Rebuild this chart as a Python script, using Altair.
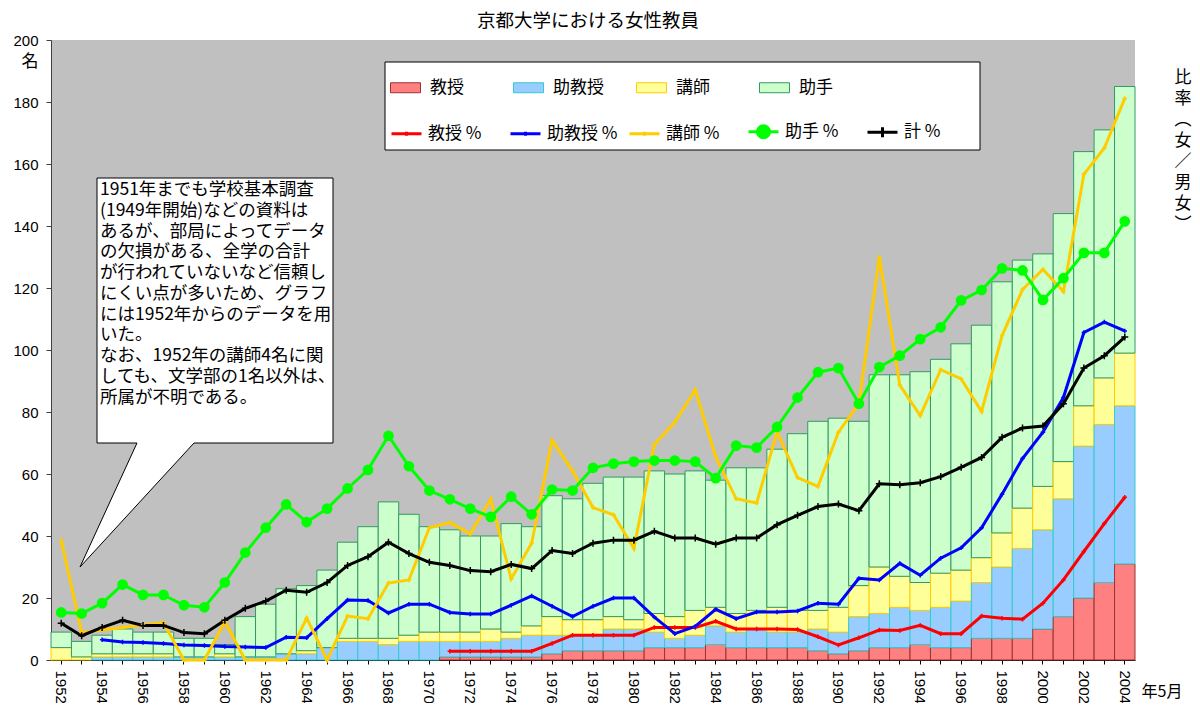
import altair as alt
import pandas as pd

FONT = "Noto Sans CJK JP"
NUMFONT = "Liberation Sans"

years = list(range(1952, 2005))

# 人数（名）
kyoju = [0] * 19 + [1, 1, 1, 1, 1, 2, 3, 3, 3, 3,
                    4, 4, 4, 5, 4, 4, 4, 4, 3, 2, 3, 4, 4, 5, 4, 4, 7, 7, 7, 10, 14, 20, 25, 31]
jokyoju = [0, 0, 1, 1, 1, 1, 1, 1, 1, 1,
           1, 2, 2, 4, 6, 6, 5, 6, 6, 5,
           5, 5, 6, 7, 6, 5, 5, 7, 7, 5,
           3, 4, 6, 5, 6, 5, 5, 7, 7, 11,
           11, 13, 11, 13, 15, 18, 23, 29, 32, 38,
           49, 51, 51]
koshi = [4, 1, 1, 1, 1, 1, 0, 0, 1, 0,
         0, 0, 1, 0, 1, 1, 2, 2, 3, 3,
         3, 4, 2, 3, 6, 5, 5, 4, 3, 6,
         7, 8, 6, 6, 6, 8, 7, 6, 8, 10,
         15, 10, 9, 11, 10, 8, 11, 13, 14, 12,
         13, 15, 17]
joshu = [5, 5, 6, 8, 7, 7, 6, 6, 3, 13,
         17, 21, 21, 25, 31, 36, 44, 39, 34, 33,
         31, 30, 35, 32, 39, 39, 44, 45, 46, 46,
         46, 45, 41, 47, 46, 51, 57, 61, 61, 53,
         62, 65, 68, 69, 73, 75, 81, 80, 75, 80,
         82, 80, 86]

# 比率（%）
pct_kyoju = [None] * 19 + [0.17, 0.17, 0.17, 0.17, 0.17, 0.32, 0.48, 0.48, 0.48, 0.48,
                           0.63, 0.63, 0.63, 0.75, 0.60, 0.60, 0.60, 0.59, 0.45, 0.29,
                           0.43, 0.58, 0.57, 0.67, 0.51, 0.51, 0.85, 0.81, 0.79, 1.10,
                           1.55, 2.10, 2.64, 3.15]
pct_jokyoju = [None, None, 0.39, 0.35, 0.34, 0.32, 0.29, 0.28, 0.26, 0.25,
               0.24, 0.44, 0.43, 0.80, 1.16, 1.15, 0.91, 1.08, 1.08, 0.92,
               0.89, 0.89, 1.06, 1.24, 1.04, 0.84, 1.04, 1.20, 1.20, 0.83,
               0.51, 0.65, 0.98, 0.80, 0.93, 0.93, 0.95, 1.10, 1.08, 1.58,
               1.55, 1.87, 1.64, 1.97, 2.17, 2.56, 3.21, 3.90, 4.41, 5.08,
               6.34, 6.54, 6.37]
pct_koshi = [2.32, 0.53, 0.58, 0.63, 0.68, 0.72, 0, 0, 0.74, 0,
             0, 0, 0.81, 0, 0.85, 0.80, 1.49, 1.55, 2.56, 2.66,
             2.44, 3.11, 1.57, 2.26, 4.25, 3.66, 2.95, 2.81, 2.16, 4.17,
             4.60, 5.23, 3.93, 3.12, 3.04, 4.41, 3.53, 3.36, 4.41, 4.96,
             7.80, 5.32, 4.73, 5.62, 5.44, 4.81, 6.28, 7.17, 7.56, 7.13,
             9.40, 9.91, 10.87]
pct_joshu = [0.92, 0.90, 1.10, 1.46, 1.26, 1.26, 1.06, 1.02, 1.50, 2.08,
             2.56, 3.01, 2.67, 2.93, 3.32, 3.68, 4.34, 3.75, 3.28, 3.11,
             2.93, 2.77, 3.16, 2.82, 3.30, 3.28, 3.72, 3.80, 3.84, 3.86,
             3.86, 3.84, 3.52, 4.15, 4.11, 4.51, 5.08, 5.57, 5.65, 4.96,
             5.67, 5.89, 6.21, 6.44, 6.96, 7.16, 7.58, 7.54, 6.97, 7.39,
             7.88, 7.88, 8.49]
pct_total = [0.71, 0.47, 0.63, 0.77, 0.67, 0.67, 0.53, 0.51, 0.77, 1.00,
             1.14, 1.35, 1.31, 1.50, 1.83, 2.00, 2.28, 2.06, 1.89, 1.83,
             1.73, 1.71, 1.85, 1.77, 2.12, 2.06, 2.26, 2.32, 2.32, 2.49,
             2.36, 2.36, 2.24, 2.36, 2.36, 2.62, 2.80, 2.97, 3.02, 2.89,
             3.41, 3.39, 3.43, 3.55, 3.73, 3.92, 4.31, 4.49, 4.53, 4.96,
             5.65, 5.89, 6.25]

bar_cats = ["教授", "助教授", "講師", "助手"]
bar_fill = ["#ff8080", "#99ccff", "#ffff99", "#ccffcc"]
bar_stroke = ["#993333", "#33cccc", "#ffcc00", "#339966"]
line_names = ["教授 %", "助教授 %", "講師 %", "助手 %", "計 %"]
line_colors = ["#ff0000", "#0000ff", "#ffcc00", "#00ff00", "#000000"]

title_text = "京都大学における女性教員"
note_lines = [
    "1951年までも学校基本調査",
    "(1949年開始)などの資料は",
    "あるが、部局によってデータ",
    "の欠損がある、全学の合計",
    "が行われていないなど信頼し",
    "にくい点が多いため、グラフ",
    "には1952年からのデータを用",
    "いた。",
    "なお、1952年の講師4名に関",
    "しても、文学部の1名以外は、",
    "所属が不明である。",
]
right_title = ["比", "率", "︵", "女", "／", "男", "女", "︶"]

# ---- tables ----
rows = []
for i, yr in enumerate(years):
    for k, (cat, vals) in enumerate(zip(bar_cats, [kyoju, jokyoju, koshi, joshu])):
        rows.append({"year": yr, "cat": cat, "n": vals[i], "k": k})
bars_df = pd.DataFrame(rows)

lrows = []
for name, vals in zip(line_names, [pct_kyoju, pct_jokyoju, pct_koshi, pct_joshu, pct_total]):
    for yr, v in zip(years, vals):
        if v is not None:
            lrows.append({"year": yr, "series": name, "pct": v})
lines_df = pd.DataFrame(lrows)

one = pd.DataFrame({"a": [0]})

xenc = alt.X(
    "year:O",
    scale=alt.Scale(domain=years, paddingInner=0, paddingOuter=0),
    axis=alt.Axis(
        title=None, labelAngle=90, labelAlign="left", labelBaseline="middle",
        labelFontSize=15, labelFont=NUMFONT, labelColor="black", labelPadding=6,
        tickSize=4, tickColor="black", domainColor="black",
        labelExpr="datum.value % 2 === 0 ? datum.value : ''", labelOverlap=False,
    ),
)

stroke_expr = " : ".join(
    [f"datum.cat === '{c}' ? '{s}'" for c, s in zip(bar_cats[:-1], bar_stroke[:-1])]
) + f" : '{bar_stroke[-1]}'"
legend_stroke_expr = " : ".join(
    [f"datum.value === '{c}' ? '{s}'" for c, s in zip(bar_cats[:-1], bar_stroke[:-1])]
) + f" : '{bar_stroke[-1]}'"

fill_legend = alt.Legend(
    orient="none", legendX=339, legendY=32, direction="horizontal", columns=4,
    title=None, symbolType="M-1,-0.333H1V0.333H-1Z", symbolSize=900,
    symbolStrokeWidth=1, symbolOpacity=1, labelFontSize=17, labelFont=FONT,
    labelColor="black", labelOffset=9, gridAlign="all", columnPadding=30, padding=0,
    symbolStrokeColor=alt.expr(legend_stroke_expr),
)

bars = alt.Chart(bars_df).transform_filter("datum.n > 0").mark_bar(
    strokeWidth=1, opacity=1, stroke=alt.expr(stroke_expr)
).encode(
    x=xenc,
    y=alt.Y("n:Q", stack="zero", scale=alt.Scale(domain=[0, 200]),
            axis=alt.Axis(values=list(range(0, 201, 20)), title=None, grid=False,
                          labelFontSize=15, labelFont=NUMFONT, labelColor="black",
                          labelPadding=8, tickSize=5, tickColor="#404040",
                          domainColor="#404040")),
    fill=alt.Fill("cat:N", scale=alt.Scale(domain=bar_cats, range=bar_fill), legend=fill_legend),
    order=alt.Order("k:Q"),
)

shape_expr = ("datum.value === '助手 %' ? 'M-1,0H1M0.4,0A0.4,0.4,0,1,1,-0.4,0A0.4,0.4,0,1,1,0.4,0'"
              " : datum.value === '計 %' ? 'M-1,0H1M0,-0.33V0.33' : 'M-1,0H1M0,-0.13V0.13'")
line_legend = alt.Legend(
    orient="none", legendX=339, legendY=75, direction="horizontal", columns=5,
    title=None, symbolType=alt.expr(shape_expr), symbolSize=900, symbolStrokeWidth=3,
    symbolFillColor=alt.expr("datum.value === '助手 %' ? '#00ff00' : 'transparent'"),
    labelFontSize=17, labelFont=FONT, labelColor="black", labelOffset=5,
    gridAlign="all", columnPadding=5, padding=0,
)

yr = alt.Y("pct:Q", scale=alt.Scale(domain=[0, 12]),
           axis=alt.Axis(orient="right", values=[0, 2, 4, 6, 8, 10, 12],
                         labelExpr="datum.value + '%'", title=None, grid=False,
                         labelFontSize=15, labelFont=NUMFONT, labelColor="black",
                         labelPadding=10, tickSize=4, tickColor="black", domainColor="black"))
yr_noaxis = alt.Y("pct:Q", scale=alt.Scale(domain=[0, 12]), axis=None)

lines = alt.Chart(lines_df).mark_line(strokeWidth=3).encode(
    x=xenc, y=yr,
    stroke=alt.Stroke("series:N", scale=alt.Scale(domain=line_names, range=line_colors),
                      legend=line_legend),
)

pt_layers = []
for name, col in zip(line_names[:3], line_colors[:3]):
    pt_layers.append(
        alt.Chart(lines_df).transform_filter(f"datum.series === '{name}'").mark_point(
            shape="M-1,0H1M0,-1V1", size=20, stroke=col, strokeWidth=1.5, filled=False, opacity=1
        ).encode(x=xenc, y=yr_noaxis)
    )
green_pts = alt.Chart(lines_df).transform_filter("datum.series === '助手 %'").mark_point(
    shape="circle", filled=True, size=115, color="#00ff00", opacity=1
).encode(x=xenc, y=yr_noaxis)
black_pts = alt.Chart(lines_df).transform_filter("datum.series === '計 %'").mark_point(
    shape="M-1,0H1M0,-1V1", size=49, stroke="black", strokeWidth=1.5, filled=False, opacity=1
).encode(x=xenc, y=yr_noaxis)

line_group = alt.layer(lines, *pt_layers, green_pts, black_pts)

legend_box = alt.Chart(one).mark_rect(fill="white", stroke="black", strokeWidth=1).encode(
    x=alt.value(334), x2=alt.value(929), y=alt.value(22), y2=alt.value(110)
)

callout = alt.Chart(one).mark_point(
    shape="M46,138H282V403H143L29,527L86,403H46Z", size=4, filled=True,
    fill="white", stroke="black", strokeWidth=1, opacity=1
).encode(x=alt.value(0), y=alt.value(0))

callout_text = alt.Chart(one).mark_text(
    align="left", baseline="top", fontSize=17.5, font=FONT, lineBreak="\n",
    lineHeight=20.75, color="black"
).encode(x=alt.value(49), y=alt.value(141), text=alt.value("\n".join(note_lines)))

title = alt.Chart(one).mark_text(
    align="center", baseline="middle", fontSize=18.5, font=FONT, color="black"
).encode(x=alt.value(537), y=alt.value(-19), text=alt.value(title_text))

unit_label = alt.Chart(one).mark_text(
    align="center", baseline="middle", fontSize=17, font=FONT, color="black"
).encode(x=alt.value(-21), y=alt.value(22), text=alt.value("名"))

rtitle = alt.Chart(one).mark_text(
    align="center", baseline="top", fontSize=17, font=FONT, color="black",
    lineBreak="\n", lineHeight=21
).encode(x=alt.value(1132), y=alt.value(30), text=alt.value("\n".join(right_title)))

xunit = alt.Chart(one).mark_text(
    align="center", baseline="middle", fontSize=16, font=FONT, color="black"
).encode(x=alt.value(1111), y=alt.value(652), text=alt.value("年5月"))

chart = alt.layer(
    bars, line_group, legend_box, callout, callout_text, title, unit_label, rtitle, xunit
).resolve_scale(y="independent").properties(
    width=1084, height=620,
    autosize=alt.AutoSizeParams(type="none"),
    padding={"left": 43, "top": 32, "right": 57, "bottom": 43},
    background="white",
).configure_view(fill="#c0c0c0", strokeWidth=0)

chart.save("out.html", embed_options={"renderer": "svg", "actions": False})
